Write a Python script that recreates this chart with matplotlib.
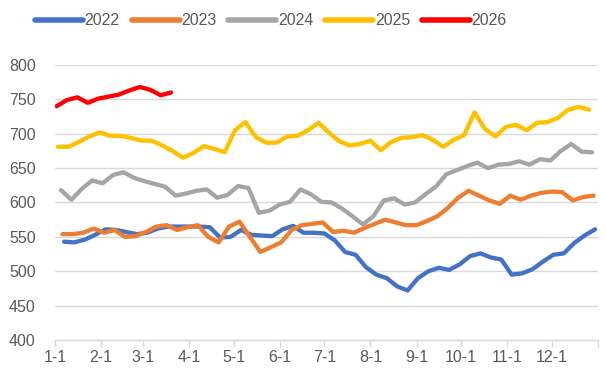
import numpy as np
import pandas as pd
import matplotlib
matplotlib.use("Agg")
import matplotlib.pyplot as plt

plt.rcParams['font.family'] = ['Liberation Sans', 'DejaVu Sans']

# ---- data -------------------------------------------------------------
years = ["2022", "2023", "2024", "2025", "2026"]
first_dates = ["2022-01-07", "2023-01-06", "2024-01-05", "2025-01-03", "2026-01-02"]
colors = ["#4472C4", "#ED7D31", "#A5A5A5", "#FFC000", "#FF0000"]

v2022 = [543, 542, 546, 553, 561, 560, 557, 554, 556, 562, 565, 565, 565, 565,
         564, 549, 550, 560, 553, 552, 551, 561, 566, 556, 556, 555, 545, 528,
         524, 506, 495, 490, 478, 472, 490, 500, 505, 502, 510, 522, 526, 520,
         517, 495, 497, 503, 514, 524, 526, 541, 552, 561]
v2023 = [554, 554, 556, 562, 556, 560, 550, 551, 557, 565, 567, 560, 564, 567,
         550, 542, 565, 572, 550, 528, 535, 542, 560, 567, 569, 571, 557, 559,
         556, 563, 569, 575, 571, 567, 567, 573, 580, 592, 607, 617, 610, 603,
         598, 610, 604, 610, 614, 616, 615, 603, 608, 610]
v2024 = [618, 604, 620, 632, 628, 640, 644, 636, 631, 627, 623, 610, 613, 617,
         619, 607, 611, 624, 621, 585, 588, 597, 601, 619, 612, 601, 600, 591,
         580, 568, 580, 603, 606, 597, 600, 612, 623, 641, 647, 653, 658, 650,
         655, 656, 660, 655, 663, 661, 675, 685, 674, 673]
v2025 = [681, 681, 688, 696, 702, 697, 697, 694, 690, 690, 683, 675, 665, 672,
         682, 678, 673, 705, 717, 695, 687, 687, 696, 697, 705, 716, 702, 689,
         683, 685, 690, 676, 688, 694, 695, 698, 691, 681, 691, 698, 731, 707,
         696, 710, 713, 705, 716, 717, 723, 735, 739, 735]
v2026 = [740, 749, 753, 745, 751, 754, 757, 763, 768, 764, 756, 760]
series = [v2022, v2023, v2024, v2025, v2026]

month_labels = ["1-1", "2-1", "3-1", "4-1", "5-1", "6-1", "7-1", "8-1",
                "9-1", "10-1", "11-1", "12-1"]

# ---- figure -----------------------------------------------------------
fig = plt.figure(figsize=(6.06, 3.79), dpi=100)
ax = fig.add_axes([0.0908, 0.1029, 0.8960, 0.7256])

ref_year = 2023  # non-leap reference calendar for the month axis
for yr, start, vals, col in zip(years, first_dates, series, colors):
    d = pd.date_range(start=start, periods=len(vals), freq="7D")
    doy = (d - pd.Timestamp(f"{yr}-01-01")).days.values
    ax.plot(doy, vals, color=col, lw=3.1, label=yr,
            solid_joinstyle="round", solid_capstyle="round")

month_starts = pd.date_range(f"{ref_year}-01-01", periods=13, freq="MS")
tick_pos = (month_starts - pd.Timestamp(f"{ref_year}-01-01")).days.values
ax.set_xlim(0, tick_pos[-1])
ax.set_xticks(tick_pos)
ax.set_xticklabels(month_labels + [""])
ax.set_ylim(400, 800)
ax.set_yticks(np.arange(400, 801, 50))

ax.grid(axis="y", color="#D9D9D9", lw=1)
ax.set_axisbelow(True)
for s in ["left", "right", "top"]:
    ax.spines[s].set_visible(False)
ax.spines["bottom"].set_color("#D9D9D9")
ax.spines["bottom"].set_linewidth(1)
ax.tick_params(axis="x", colors="#595959", length=5, width=1, labelsize=11.5,
               color="#D9D9D9", pad=2)
ax.tick_params(axis="y", colors="#595959", length=0, labelsize=11.5, pad=14)

leg = fig.legend(loc="upper center", bbox_to_anchor=(0.447, 0.99), ncol=5,
                 frameon=False, fontsize=11.5, handlelength=3.0,
                 handletextpad=0.1, columnspacing=0.75, borderaxespad=0.2)
for t in leg.get_texts():
    t.set_color("#595959")
for h in leg.get_lines():
    h.set_linewidth(4)

fig.savefig("out.png", dpi=100)
